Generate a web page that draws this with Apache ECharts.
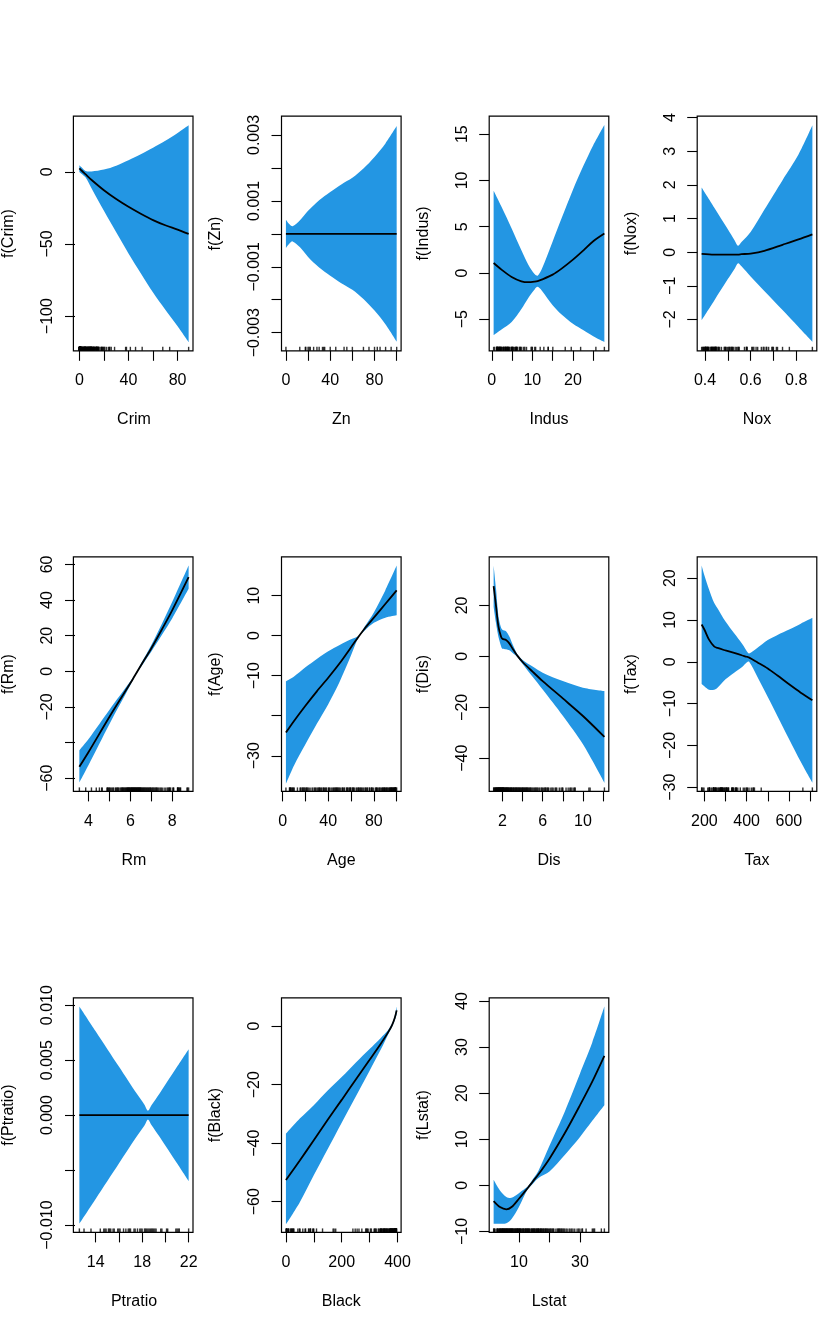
<!DOCTYPE html>
<html><head><meta charset="utf-8">
<script src="https://cdn.jsdelivr.net/npm/echarts@6/dist/echarts.min.js"></script>
<style>html,body{margin:0;padding:0;background:#fff}#c{width:830px;height:1321px}</style>
</head><body><div id="c"></div>
<script>
// ---------------- Crim ----------------
const crimX     = [0.006, 2, 5, 10, 20, 30, 40, 50, 60, 70, 80, 88.98];
const crimFit   = [2.5, 0.8, -1.6, -5.6, -12.7, -18.8, -24.2, -29.0, -33.4, -37.0, -40.0, -43.0];
const crimUpper = [4.6, 3.0, 0.6, 0.3, 1.6, 4.3, 8.1, 12.2, 16.8, 21.5, 27.0, 32.4];
const crimLower = [0.0, -1.4, -3.8, -11.5, -27.0, -41.9, -56.5, -70.2, -83.6, -95.5, -107.0, -118.0];
const crimRug = [0.006,0.02,0.03,0.04,0.05,0.06,0.07,0.08,0.09,0.1,0.12,0.14,0.16,0.18,0.2,0.22,0.25,0.28,0.3,0.33,0.36,0.4,0.45,0.5,0.55,0.6,0.65,0.7,0.8,0.85,0.9,1.0,1.05,1.13,1.23,1.35,1.42,1.5,1.63,1.83,2.0,2.15,2.33,2.45,2.73,2.92,3.32,3.47,3.54,3.68,3.85,4.1,4.22,4.3,4.42,4.56,4.66,4.75,4.84,5.07,5.2,5.29,5.58,5.69,5.82,6.29,6.44,6.65,6.8,6.96,7.05,7.37,7.52,7.67,7.84,7.99,8.15,8.25,8.49,8.64,8.79,8.98,9.09,9.19,9.33,9.51,9.6,9.72,9.82,9.92,10.06,10.23,10.67,10.83,11.09,11.16,11.58,11.82,11.95,12.05,12.25,12.8,13.36,13.52,13.68,13.91,14.05,14.24,14.33,14.44,15.02,15.18,15.29,15.58,15.86,16.81,17.87,18.08,18.5,18.81,19.61,20.08,20.72,22.05,23.65,24.39,24.8,25.94,28.66,37.66,38.35,41.53,45.75,51.14,67.92,73.53,88.98];
const crimXRange = [-3.553, 92.535];
const crimYRange = [-124.0, 38.6];
const crimXTicks = [0, 20, 40, 60, 80];
const crimXLabels = [0, 40, 80];
const crimYTicks = [-100, -50, 0];
const crimYLabels = [-100, -50, 0];

// ---------------- Zn ----------------
const znX     = [0, 3, 6, 12.7, 20, 30, 40, 50, 60, 70, 80, 90, 100];
const znFit   = [0, 0, 0, 0, 0, 0, 0, 0, 0, 0, 0, 0, 0];
const znUpper = [0.00043, 0.00030, 0.00023, 0.00041, 0.00070, 0.00102, 0.00127, 0.00150, 0.00170, 0.00198, 0.00233, 0.00275, 0.00327];
const znLower = [-0.00043, -0.00030, -0.00023, -0.00041, -0.00070, -0.00102, -0.00127, -0.00150, -0.00170, -0.00198, -0.00233, -0.00275, -0.00327];
const znRug = [0, 12.5, 17.5, 18, 20, 21, 22, 25, 28, 30, 33, 34, 35, 40, 45, 52.5, 55, 60, 70, 75, 80, 82.5, 85, 90, 95, 100];
const znXRange = [-4, 104];
const znYRange = [-0.00355, 0.00357];
const znXTicks = [0, 20, 40, 60, 80, 100];
const znXLabels = [0, 40, 80];
const znYTicks = [-0.003, -0.002, -0.001, 0, 0.001, 0.002, 0.003];
const znYLabels = [-0.003, -0.001, 0.001, 0.003];

// ---------------- Indus ----------------
const indusX     = [0.46, 2.4, 4.9, 7.3, 9.0, 10.6, 11.3, 12.3, 15, 17.2, 20, 22.6, 25, 27.74];
const indusFit   = [1.08, 0.36, -0.43, -0.9, -1.0, -0.94, -0.88, -0.72, -0.18, 0.47, 1.44, 2.45, 3.43, 4.26];
const indusUpper = [8.88, 7.15, 4.8, 2.45, 0.9, -0.15, -0.3, 0.4, 3.4, 5.9, 9.0, 11.6, 13.8, 16.0];
const indusLower = [-6.7, -6.1, -5.3, -3.9, -2.7, -1.75, -1.5, -1.9, -3.5, -4.5, -5.5, -6.2, -6.85, -7.47];
const indusRug = [0.46,0.74,1.21,1.22,1.25,1.32,1.38,1.47,1.52,1.69,1.76,1.89,1.91,2.01,2.03,2.18,2.24,2.31,2.46,2.68,2.89,2.95,2.97,3.24,3.33,3.41,3.44,3.64,3.75,3.78,3.97,4.0,4.05,4.15,4.39,4.49,4.86,4.93,4.95,5.13,5.19,5.32,5.64,5.86,5.96,6.06,6.09,6.2,6.41,6.91,6.96,7.07,7.38,7.87,8.14,8.56,9.69,9.9,10.01,10.59,10.81,11.93,12.83,13.89,13.92,15.04,18.1,19.58,21.89,25.65,27.74];
const indusXRange = [-0.631, 28.831];
const indusYRange = [-8.41, 16.94];
const indusXTicks = [0, 5, 10, 15, 20, 25];
const indusXLabels = [0, 10, 20];
const indusYTicks = [-5, 0, 5, 10, 15];
const indusYLabels = [-5, 0, 5, 10, 15];

// ---------------- Nox ----------------
const noxX     = [0.385, 0.44, 0.5, 0.53, 0.545, 0.56, 0.6, 0.66, 0.74, 0.81, 0.871];
const noxFit   = [-0.05, -0.07, -0.07, -0.07, -0.07, -0.06, -0.04, 0.04, 0.22, 0.38, 0.53];
const noxUpper = [1.92, 1.33, 0.68, 0.35, 0.19, 0.3, 0.6, 1.26, 2.14, 2.9, 3.77];
const noxLower = [-2.02, -1.44, -0.8, -0.49, -0.33, -0.42, -0.72, -1.15, -1.72, -2.22, -2.66];
const noxRug = [0.385,0.389,0.392,0.394,0.398,0.4,0.401,0.403,0.404,0.405,0.409,0.41,0.411,0.413,0.415,0.416,0.422,0.426,0.428,0.429,0.431,0.433,0.435,0.437,0.439,0.442,0.443,0.445,0.447,0.448,0.449,0.453,0.458,0.46,0.464,0.472,0.484,0.488,0.489,0.493,0.499,0.504,0.507,0.51,0.515,0.518,0.52,0.524,0.532,0.538,0.544,0.547,0.55,0.573,0.581,0.583,0.585,0.605,0.609,0.614,0.624,0.631,0.647,0.655,0.659,0.668,0.671,0.679,0.693,0.697,0.7,0.713,0.718,0.74,0.77,0.871];
const noxXRange = [0.3656, 0.8904];
const noxYRange = [-2.93, 4.04];
const noxXTicks = [0.4, 0.5, 0.6, 0.7, 0.8];
const noxXLabels = [0.4, 0.6, 0.8];
const noxYTicks = [-2, -1, 0, 1, 2, 3, 4];
const noxYLabels = [-2, -1, 0, 1, 2, 3, 4];

// ---------------- Rm ----------------
const rmX     = [3.56, 4, 5, 6, 6.2, 6.5, 7, 7.5, 8, 8.78];
const rmFit   = [-53.6, -45.3, -25.5, -6.6, -2.6, 3.3, 13.0, 23.5, 34.4, 52.9];
const rmUpper = [-44.3, -38.0, -21.5, -5.6, -2.2, 4.2, 14.8, 26.6, 39.0, 59.4];
const rmLower = [-62.5, -52.6, -29.5, -7.6, -3.0, 2.4, 11.2, 20.4, 29.8, 46.4];
const rmRug = [3.561,3.863,4.138,4.368,4.519,4.628,4.652,4.88,4.903,4.926,4.963,5.0,5.036,5.093,5.155,5.186,5.272,5.304,5.344,5.39,5.414,5.456,5.52,5.57,5.6,5.62,5.65,5.68,5.71,5.75,5.78,5.8,5.83,5.85,5.87,5.89,5.91,5.93,5.95,5.97,6.0,6.02,6.04,6.06,6.08,6.1,6.12,6.14,6.16,6.18,6.2,6.22,6.24,6.26,6.28,6.3,6.32,6.34,6.36,6.38,6.4,6.42,6.44,6.46,6.48,6.5,6.53,6.56,6.59,6.62,6.65,6.68,6.72,6.75,6.78,6.82,6.85,6.88,6.92,6.95,6.98,7.02,7.06,7.1,7.15,7.2,7.24,7.27,7.31,7.36,7.42,7.47,7.52,7.61,7.69,7.765,7.82,7.853,7.875,7.923,8.034,8.04,8.069,8.247,8.259,8.266,8.297,8.337,8.375,8.398,8.704,8.725,8.78];
const rmXRange = [3.352, 8.989];
const rmYRange = [-67.4, 64.3];
const rmXTicks = [4, 5, 6, 7, 8];
const rmXLabels = [4, 6, 8];
const rmYTicks = [-60, -40, -20, 0, 20, 40, 60];
const rmYLabels = [-60, -20, 0, 20, 40, 60];

// ---------------- Age ----------------
const ageX     = [2.9, 10, 20, 30, 40, 50, 60, 66.7, 72, 80, 90, 100];
const ageFit   = [-24.2, -21.3, -17.5, -13.9, -10.5, -6.9, -2.9, -0.2, 1.8, 4.5, 7.9, 11.3];
const ageUpper = [-11.4, -10.2, -7.9, -5.8, -3.9, -2.3, -0.9, -0.05, 2.3, 5.8, 11.3, 17.5];
const ageLower = [-37.0, -32.4, -27.1, -22.0, -17.1, -11.5, -4.9, -0.35, 1.3, 3.2, 4.5, 5.1];
const ageRug = [2.9,6.0,6.5,6.6,6.8,7.8,8.4,8.9,9.8,10.0,13.0,15.3,15.8,17.0,17.5,18.4,19.1,20.1,21.1,21.4,22.3,23.3,24.8,26.3,27.7,28.4,29.1,30.2,31.1,31.9,32.2,33.0,33.8,34.5,35.7,36.1,36.9,37.8,38.4,40.0,40.5,41.1,42.4,43.4,44.4,45.0,45.8,46.3,47.2,47.6,48.2,49.1,49.9,51.0,52.3,52.6,53.6,54.3,56.0,56.5,57.0,58.1,58.7,59.5,59.7,61.1,61.8,62.0,63.0,64.5,65.2,66.1,66.6,67.2,68.2,68.8,69.5,70.4,71.3,72.5,73.1,73.9,74.5,76.0,76.5,77.7,78.1,78.7,79.9,81.6,82.0,82.5,83.0,84.0,85.1,85.4,86.5,87.3,87.9,88.0,88.8,89.1,89.6,90.0,90.8,91.2,91.9,92.6,93.3,93.9,94.1,94.7,95.0,95.4,95.7,96.2,96.7,97.0,97.3,97.9,98.2,98.5,98.8,98.9,99.1,99.3,100];
const ageXRange = [-0.98, 103.88];
const ageYRange = [-38.9, 19.7];
const ageXTicks = [0, 20, 40, 60, 80, 100];
const ageXLabels = [0, 40, 80];
const ageYTicks = [-30, -20, -10, 0, 10];
const ageYLabels = [-30, -10, 0, 10];

// ---------------- Dis ----------------
const disX     = [1.13, 1.37, 1.6, 1.87, 2.0, 2.36, 2.69, 3.02, 3.52, 4.01, 5, 6, 8, 10, 12.13];
const disFit   = [27.6, 19.7, 11.9, 7.7, 6.9, 6.4, 5.1, 3.0, 0.1, -2.2, -6.0, -9.7, -16.5, -23.4, -31.6];
const disUpper = [35.7, 26.5, 16.0, 11.2, 10.5, 9.9, 7.8, 4.7, 0.6, -1.4, -4.0, -6.4, -9.7, -12.3, -13.6];
const disLower = [19.5, 13.0, 7.8, 4.0, 3.0, 2.8, 2.4, 1.3, -0.4, -3.0, -8.0, -13.0, -23.3, -34.5, -49.6];
const disRug = [1.13,1.17,1.2,1.29,1.32,1.35,1.39,1.42,1.45,1.49,1.52,1.55,1.59,1.61,1.63,1.67,1.7,1.73,1.76,1.79,1.82,1.85,1.87,1.9,1.94,1.97,2.0,2.02,2.05,2.08,2.1,2.13,2.17,2.2,2.26,2.3,2.34,2.38,2.42,2.45,2.5,2.54,2.58,2.62,2.68,2.73,2.78,2.83,2.87,2.91,2.96,3.03,3.09,3.13,3.2,3.26,3.32,3.37,3.42,3.5,3.55,3.61,3.67,3.72,3.79,3.85,3.92,3.98,4.03,4.09,4.15,4.22,4.26,4.33,4.39,4.44,4.5,4.57,4.65,4.72,4.79,4.86,4.97,5.1,5.21,5.29,5.4,5.49,5.62,5.72,5.87,5.96,6.06,6.19,6.27,6.34,6.46,6.54,6.61,6.81,6.93,7.04,7.23,7.31,7.4,7.65,7.83,7.95,8.01,8.32,8.53,8.7,8.79,8.91,9.09,9.19,9.22,10.59,10.71,12.13];
const disXRange = [0.69, 12.566];
const disYRange = [-53.0, 39.1];
const disXTicks = [2, 4, 6, 8, 10, 12];
const disXLabels = [2, 6, 10];
const disYTicks = [-40, -20, 0, 20];
const disYLabels = [-40, -20, 0, 20];

// ---------------- Tax ----------------
const taxX     = [187, 201, 222, 246, 262, 300, 341, 380, 400, 412, 450, 500, 546, 601, 656, 711];
const taxFit   = [8.9, 7.6, 5.3, 3.7, 3.3, 2.7, 2.1, 1.5, 1.2, 1.0, -0.1, -1.6, -3.3, -5.4, -7.4, -9.2];
const taxUpper = [23.0, 20.5, 17.3, 14.1, 12.8, 9.6, 6.8, 4.2, 2.6, 2.0, 3.3, 5.2, 6.4, 7.7, 9.1, 10.5];
const taxLower = [-5.3, -5.9, -6.7, -6.7, -6.2, -4.2, -2.6, -1.2, -0.2, 0.0, -3.5, -8.4, -13.0, -18.5, -23.9, -28.9];
const taxRug = [187,188,193,198,216,222,223,224,226,233,241,242,243,244,245,247,252,254,255,256,264,265,270,273,276,277,279,280,281,284,285,287,289,293,296,300,304,305,307,311,313,315,329,330,334,335,337,345,348,351,352,358,370,384,391,398,402,403,411,422,430,432,437,469,666,711];
const taxXRange = [166.04, 731.96];
const taxYRange = [-31.0, 25.1];
const taxXTicks = [200, 300, 400, 500, 600, 700];
const taxXLabels = [200, 400, 600];
const taxYTicks = [-30, -20, -10, 0, 10, 20];
const taxYLabels = [-30, -20, -10, 0, 10, 20];

// ---------------- Ptratio ----------------
const ptratioX     = [12.6, 14, 16, 17.5, 18.2, 18.5, 18.8, 19.5, 21, 22];
const ptratioFit   = [0, 0, 0, 0, 0, 0, 0, 0, 0, 0];
const ptratioUpper = [0.00988, 0.00763, 0.00441, 0.0020, 0.00095, 0.0004, 0.0009, 0.00197, 0.00439, 0.0060];
const ptratioLower = [-0.00988, -0.00763, -0.00441, -0.0020, -0.00095, -0.0004, -0.0009, -0.00197, -0.00439, -0.0060];
const ptratioRug = [12.6,13.0,13.6,14.4,14.7,14.8,14.9,15.1,15.2,15.3,15.5,15.6,15.9,16.0,16.1,16.4,16.6,16.8,16.9,17.0,17.3,17.4,17.6,17.8,17.9,18.0,18.2,18.3,18.4,18.5,18.6,18.7,18.8,18.9,19.0,19.1,19.2,19.6,19.7,20.1,20.2,20.9,21.0,21.1,21.2,22.0];
const ptratioXRange = [12.224, 22.376];
const ptratioYRange = [-0.01067, 0.01067];
const ptratioXTicks = [14, 16, 18, 20, 22];
const ptratioXLabels = [14, 18, 22];
const ptratioYTicks = [-0.01, -0.005, 0, 0.005, 0.01];
const ptratioYLabels = [-0.01, 0, 0.005, 0.01];

// ---------------- Black ----------------
const blackX     = [0.32, 50, 100, 150, 200, 250, 300, 340, 365, 380, 390, 396.9];
const blackFit   = [-52.6, -45.9, -39.0, -32.0, -25.2, -18.3, -11.5, -6.0, -2.3, 0.3, 2.8, 5.4];
const blackUpper = [-36.8, -31.6, -27.0, -22.0, -17.4, -12.5, -7.8, -4.0, -1.5, 0.9, 3.6, 6.7];
const blackLower = [-67.8, -60.2, -51.0, -42.0, -33.0, -24.1, -15.2, -8.0, -3.1, -0.3, 2.0, 4.1];
const blackRug = [0.32,2.52,2.6,3.5,3.65,7.68,9.32,10.48,16.45,18.82,21.57,22.01,24.65,27.25,28.79,43.06,48.45,50.92,60.72,68.95,70.8,81.33,83.45,88.01,88.63,96.73,97.95,100.19,109.85,131.42,169.27,172.91,178.6,240.16,248.31,255.23,261.95,272.21,285.83,288.99,291.55,294.74,302.76,306.38,316.03,318.43,320.46,324.4,331.29,334.4,338.09,338.92,340.27,341.6,343.28,344.91,347.88,349.48,350.45,352.58,353.89,354.7,356.99,359.29,360.17,362.25,364.31,365.73,368.57,370.31,371.72,373.66,374.56,375.21,376.04,377.07,378.08,379.41,380.02,381.32,382.0,383.02,384.54,385.76,386.63,387.89,388.45,389.15,390.11,390.7,391.23,391.71,392.18,392.68,393.23,393.74,394.12,394.67,395.09,395.56,396.06,396.9];
const blackXRange = [-15.54, 412.76];
const blackYRange = [-70.5, 9.7];
const blackXTicks = [0, 100, 200, 300, 400];
const blackXLabels = [0, 200, 400];
const blackYTicks = [-60, -40, -20, 0];
const blackYLabels = [-60, -40, -20, 0];

// ---------------- Lstat ----------------
const lstatX     = [1.73, 3.8, 5.9, 7.6, 10, 12, 13.1, 14.5, 16.4, 20, 25, 30, 34, 37.97];
const lstatFit   = [-3.4, -4.7, -5.2, -4.7, -2.9, -1.3, -0.4, 0.8, 2.4, 5.8, 11.3, 17.4, 22.5, 28.1];
const lstatUpper = [1.2, -1.1, -2.5, -2.7, -1.7, -0.7, -0.1, 1.3, 3.2, 8.6, 16.0, 24.3, 31.0, 38.8];
const lstatLower = [-8.3, -8.3, -8.2, -7.3, -4.7, -1.9, -0.7, 0.3, 1.6, 3.0, 6.6, 10.5, 14.0, 17.4];
const lstatRug = [1.73,1.92,1.98,2.47,2.87,2.96,3.11,3.26,3.53,3.7,3.81,3.95,4.08,4.21,4.38,4.5,4.59,4.7,4.82,4.97,5.08,5.21,5.33,5.5,5.64,5.77,5.9,6.05,6.15,6.27,6.43,6.58,6.72,6.86,7.01,7.14,7.26,7.39,7.53,7.67,7.79,7.9,8.05,8.2,8.43,8.58,8.79,8.93,9.1,9.25,9.42,9.53,9.64,9.74,9.88,10.11,10.21,10.3,10.45,10.59,10.74,10.97,11.22,11.38,11.5,11.69,11.97,12.12,12.27,12.43,12.64,12.8,12.93,13.09,13.27,13.44,13.61,13.99,14.13,14.33,14.52,14.67,14.8,15.02,15.17,15.39,15.7,15.84,16.03,16.21,16.35,16.47,16.65,16.94,17.1,17.21,17.44,17.64,17.92,18.06,18.33,18.68,18.8,19.01,19.31,19.52,19.77,20.08,20.32,20.62,21.02,21.22,21.45,22.11,22.6,22.88,23.09,23.29,23.6,23.97,24.16,24.56,24.91,25.41,25.79,26.42,26.77,27.26,27.71,28.28,29.05,29.53,29.97,30.62,30.81,31.99,34.02,34.41,34.77,36.98,37.97];
const lstatXRange = [0.28, 39.42];
const lstatYRange = [-10.2, 40.7];
const lstatXTicks = [10, 20, 30];
const lstatXLabels = [10, 30];
const lstatYTicks = [-10, 0, 10, 20, 30, 40];
const lstatYLabels = [-10, 0, 10, 20, 30, 40];

// ---------------- layout / style ----------------
const FONT = '"Liberation Sans", Arial, Helvetica, sans-serif';
const BAND = '#2396e3';
const SMOOTH = 0.3;
const colLeft = [73.4, 281.5, 489.2, 697.2];
const rowTop = [116.2, 556.8, 997.8];
const W = 119.6, H = 234.6;

const panels = [
  {name:'Crim', x:crimX, fit:crimFit, up:crimUpper, lo:crimLower, rug:crimRug, xr:crimXRange, yr:crimYRange, xt:crimXTicks, xl:crimXLabels, yt:crimYTicks, yl:crimYLabels, xd:0, yd:0},
  {name:'Zn', x:znX, fit:znFit, up:znUpper, lo:znLower, rug:znRug, xr:znXRange, yr:znYRange, xt:znXTicks, xl:znXLabels, yt:znYTicks, yl:znYLabels, xd:0, yd:3},
  {name:'Indus', x:indusX, fit:indusFit, up:indusUpper, lo:indusLower, rug:indusRug, xr:indusXRange, yr:indusYRange, xt:indusXTicks, xl:indusXLabels, yt:indusYTicks, yl:indusYLabels, xd:0, yd:0},
  {name:'Nox', x:noxX, fit:noxFit, up:noxUpper, lo:noxLower, rug:noxRug, xr:noxXRange, yr:noxYRange, xt:noxXTicks, xl:noxXLabels, yt:noxYTicks, yl:noxYLabels, xd:1, yd:0},
  {name:'Rm', x:rmX, fit:rmFit, up:rmUpper, lo:rmLower, rug:rmRug, xr:rmXRange, yr:rmYRange, xt:rmXTicks, xl:rmXLabels, yt:rmYTicks, yl:rmYLabels, xd:0, yd:0},
  {name:'Age', x:ageX, fit:ageFit, up:ageUpper, lo:ageLower, rug:ageRug, xr:ageXRange, yr:ageYRange, xt:ageXTicks, xl:ageXLabels, yt:ageYTicks, yl:ageYLabels, xd:0, yd:0},
  {name:'Dis', x:disX, fit:disFit, up:disUpper, lo:disLower, rug:disRug, xr:disXRange, yr:disYRange, xt:disXTicks, xl:disXLabels, yt:disYTicks, yl:disYLabels, xd:0, yd:0},
  {name:'Tax', x:taxX, fit:taxFit, up:taxUpper, lo:taxLower, rug:taxRug, xr:taxXRange, yr:taxYRange, xt:taxXTicks, xl:taxXLabels, yt:taxYTicks, yl:taxYLabels, xd:0, yd:0},
  {name:'Ptratio', x:ptratioX, fit:ptratioFit, up:ptratioUpper, lo:ptratioLower, rug:ptratioRug, xr:ptratioXRange, yr:ptratioYRange, xt:ptratioXTicks, xl:ptratioXLabels, yt:ptratioYTicks, yl:ptratioYLabels, xd:0, yd:3},
  {name:'Black', x:blackX, fit:blackFit, up:blackUpper, lo:blackLower, rug:blackRug, xr:blackXRange, yr:blackYRange, xt:blackXTicks, xl:blackXLabels, yt:blackYTicks, yl:blackYLabels, xd:0, yd:0},
  {name:'Lstat', x:lstatX, fit:lstatFit, up:lstatUpper, lo:lstatLower, rug:lstatRug, xr:lstatXRange, yr:lstatYRange, xt:lstatXTicks, xl:lstatXLabels, yt:lstatYTicks, yl:lstatYLabels, xd:0, yd:0}
];

function fmt(v, d) {
  const s = Math.abs(v) < 1e-12 ? (0).toFixed(d) : v.toFixed(d);
  return s.replace('-', '\u2212');
}
// smooth bezier path through pixel points (same control-point rule as ECharts line smoothing)
function curveSegs(pts, s) {
  const n = pts.length, cps = [];
  for (let i = 0; i < n; i++) {
    const p = pts[i];
    if (i === 0 || i === n - 1) { cps.push([p, p]); continue; }
    const a = pts[i - 1], b = pts[i + 1];
    const vx = (b[0] - a[0]) * s, vy = (b[1] - a[1]) * s;
    const d0 = Math.hypot(p[0] - a[0], p[1] - a[1]), d1 = Math.hypot(b[0] - p[0], b[1] - p[1]);
    const r = d1 / (d0 + d1);
    cps.push([[p[0] - vx * (1 - r), p[1] - vy * (1 - r)], [p[0] + vx * r, p[1] + vy * r]]);
  }
  let d = '';
  for (let i = 0; i < n - 1; i++) {
    const c1 = cps[i][1], c2 = cps[i + 1][0], q = pts[i + 1];
    d += ' C' + c1[0] + ' ' + c1[1] + ' ' + c2[0] + ' ' + c2[1] + ' ' + q[0] + ' ' + q[1];
  }
  return d;
}
const txt = {fontSize: 16, color: '#000', fontFamily: FONT};

const grid = [], xAxis = [], yAxis = [], series = [], graphic = [];
panels.forEach((p, i) => {
  const left = colLeft[i % 4], top = rowTop[Math.floor(i / 4)];
  grid.push({left: left, top: top, width: W, height: H, show: false});
  xAxis.push({
    type: 'value', gridIndex: i, min: p.xr[0], max: p.xr[1],
    axisLine: {show: false, onZero: false},
    axisTick: {show: true, length: 10, customValues: p.xt, lineStyle: {color: '#000', width: 1.1}},
    axisLabel: Object.assign({customValues: p.xl, formatter: v => fmt(v, p.xd), margin: 22}, txt),
    splitLine: {show: false},
    name: p.name, nameLocation: 'middle', nameGap: 61, nameTextStyle: txt
  });
  yAxis.push({
    type: 'value', gridIndex: i, min: p.yr[0], max: p.yr[1],
    axisLine: {show: false, onZero: false},
    axisTick: {show: true, length: 10, customValues: p.yt, lineStyle: {color: '#000', width: 1.1}},
    axisLabel: Object.assign({customValues: p.yl, formatter: v => fmt(v, p.yd), margin: 19, rotate: 90}, txt),
    splitLine: {show: false},
    name: 'f(' + p.name + ')', nameLocation: 'middle', nameGap: 58, nameRotate: 90, nameTextStyle: txt
  });
  // confidence band: one filled shape between upper and lower curves
  series.push({
    type: 'custom', xAxisIndex: i, yAxisIndex: i, silent: true, animation: false, z: 2,
    data: [[p.x[0], p.up[0]]],
    encode: {x: 0, y: 1},
    renderItem: function (params, api) {
      if (params.dataIndex !== 0) return null;
      const up = p.x.map((x, k) => api.coord([x, p.up[k]]));
      const lo = p.x.map((x, k) => api.coord([x, p.lo[k]])).reverse();
      const d = 'M' + up[0][0] + ' ' + up[0][1] + curveSegs(up, SMOOTH) +
                ' L' + lo[0][0] + ' ' + lo[0][1] + curveSegs(lo, SMOOTH) + ' Z';
      return {type: 'path', shape: {pathData: d}, style: {fill: BAND, stroke: null}};
    }
  });
  series.push({
    type: 'line', xAxisIndex: i, yAxisIndex: i, symbol: 'none', smooth: SMOOTH, silent: true, animation: false,
    data: p.x.map((x, k) => [x, p.fit[k]]),
    lineStyle: {color: '#000', width: 1.8}, z: 4
  });
  series.push({
    type: 'scatter', xAxisIndex: i, yAxisIndex: i, silent: true, animation: false,
    data: p.rug.map(v => [v, p.yr[0]]),
    symbol: 'rect', symbolSize: [1.4, 4], symbolOffset: [0, -2],
    itemStyle: {color: '#000'}, z: 5, clip: false
  });
  graphic.push({type: 'rect', silent: true, z: 100,
    shape: {x: left, y: top, width: W, height: H},
    style: {fill: 'none', stroke: '#000', lineWidth: 1.2}});
});

const chart = echarts.init(document.getElementById('c'), null, {renderer: 'canvas'});
chart.setOption({animation: false, backgroundColor: '#fff', grid, xAxis, yAxis, series, graphic});
</script>
</body></html>
